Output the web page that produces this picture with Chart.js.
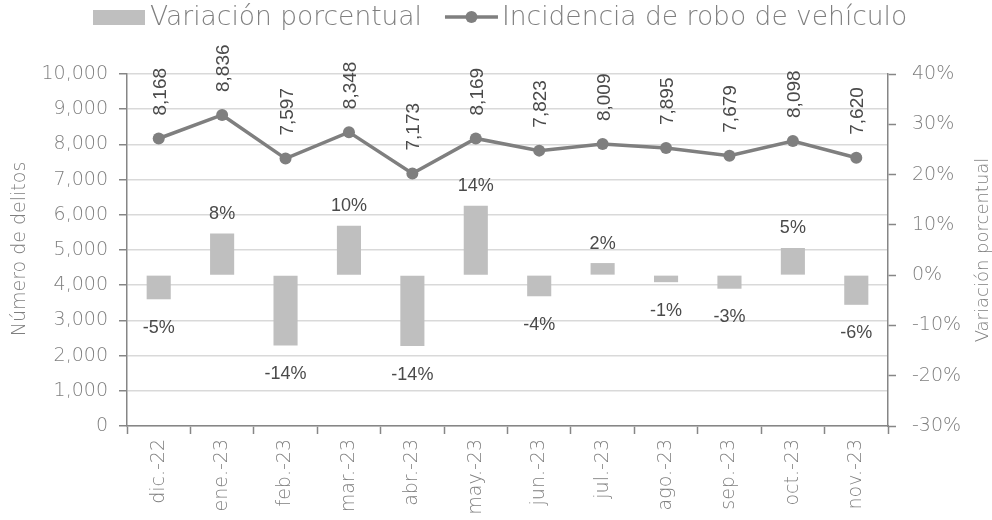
<!DOCTYPE html>
<html><head><meta charset="utf-8">
<script src="https://cdn.jsdelivr.net/npm/chart.js@4.4.1/dist/chart.umd.min.js"></script>
<style>html,body{margin:0;padding:0;background:#fff}#wrap{width:992px;height:520px}</style>
</head><body><div id="wrap"><canvas id="c" width="992" height="520"></canvas></div>
<script>
const categories = ['dic.-22','ene.-23','feb.-23','mar.-23','abr.-23','may.-23','jun.-23','jul.-23','ago.-23','sep.-23','oct.-23','nov.-23'];
const incidencia = [8168,8836,7597,8348,7173,8169,7823,8009,7895,7679,8098,7620];
const variacion = [-4.8,8.3,-14.0,9.8,-14.1,13.8,-4.2,2.4,-1.4,-2.7,5.4,-5.9];
const leftTitle = 'Número de delitos';
const rightTitle = 'Variación porcentual';
const barLabel = 'Variación porcentual';
const lineLabel = 'Incidencia de robo de vehículo';

const AX = '"DejaVu Sans", sans-serif';
const LBL = '"Liberation Sans", Arial, sans-serif';
const GRAY = '#7f7f7f';
const AXIS = '#868686';

const labelsPlugin = {
  id: 'labelsPlugin',
  afterDatasetsDraw(chart) {
    const ctx = chart.ctx;
    ctx.save();
    ctx.fillStyle = '#4a4a4a';
    ctx.font = '18px ' + LBL;
    const capH = 13;
    const bm = chart.getDatasetMeta(0);
    bm.data.forEach((el, i) => {
      const v = variacion[i];
      const txt = Math.round(v) + '%';
      ctx.textAlign = 'center';
      ctx.textBaseline = 'alphabetic';
      const cy = v >= 0 ? el.y - 21 : el.y + 27;
      ctx.fillText(txt, el.x, cy + capH / 2);
    });
    const lm = chart.getDatasetMeta(1);
    ctx.font = '19px ' + LBL;
    lm.data.forEach((el, i) => {
      const txt = incidencia[i].toLocaleString('en-US');
      ctx.save();
      ctx.translate(el.x, el.y - 23);
      ctx.rotate(-Math.PI / 2);
      ctx.textAlign = 'left';
      ctx.textBaseline = 'alphabetic';
      ctx.fillText(txt, 0, 7);
      ctx.restore();
    });
    ctx.restore();
  },
  afterDraw(chart) {
    const ctx = chart.ctx;
    ctx.save();
    ctx.fillStyle = GRAY;
    ctx.textAlign = 'center';
    ctx.textBaseline = 'middle';
    ctx.font = '200 19px ' + AX;
    ctx.save(); ctx.translate(20, 249); ctx.rotate(-Math.PI/2); ctx.fillText(leftTitle, 0, 0); ctx.restore();
    ctx.font = '200 18px ' + AX;
    ctx.save(); ctx.translate(983, 250); ctx.rotate(-Math.PI/2); ctx.fillText(rightTitle, 0, 0); ctx.restore();
    // legend
    ctx.fillStyle = '#bfbfbf';
    ctx.fillRect(93, 10, 52, 15);
    ctx.font = '200 26.5px ' + AX;
    ctx.fillStyle = GRAY;
    ctx.textAlign = 'left';
    ctx.textBaseline = 'alphabetic';
    ctx.fillText(barLabel, 150, 25);
    const w1 = ctx.measureText(barLabel).width;
    const lx = 150 + w1 + 23;
    ctx.strokeStyle = GRAY;
    ctx.lineWidth = 3.5;
    ctx.beginPath(); ctx.moveTo(lx, 17); ctx.lineTo(lx + 53, 17); ctx.stroke();
    ctx.beginPath(); ctx.arc(lx + 26.5, 17, 6, 0, Math.PI * 2); ctx.fillStyle = GRAY; ctx.fill();
    ctx.fillText(lineLabel, lx + 57, 25);
    ctx.restore();
  }
};

new Chart(document.getElementById('c'), {
  data: {
    labels: categories,
    datasets: [
      {
        type: 'bar', label: barLabel, data: variacion, yAxisID: 'y1', order: 1,
        backgroundColor: '#bfbfbf', barPercentage: 0.38, categoryPercentage: 1.0
      },
      {
        type: 'line', label: lineLabel, data: incidencia, yAxisID: 'y', order: 0,
        borderColor: GRAY, borderWidth: 3.5, pointRadius: 6, pointBackgroundColor: GRAY,
        pointBorderWidth: 0, tension: 0, fill: false
      }
    ]
  },
  options: {
    responsive: false, animation: false, devicePixelRatio: 1,
    layout: { padding: { top: 74, left: 0, right: 0, bottom: 0 } },
    plugins: { legend: { display: false }, tooltip: { enabled: false } },
    scales: {
      x: {
        offset: true,
        grid: { offset: true, drawOnChartArea: false, drawTicks: true, tickLength: 8, tickColor: AXIS, tickWidth: 1.5 },
        border: { color: AXIS, width: 1.5 },
        ticks: { minRotation: 90, maxRotation: 90, padding: 5, color: GRAY, font: { family: AX, size: 19, weight: 200 } },
        afterFit(s) { s.height = 94; }
      },
      y: {
        position: 'left', min: 0, max: 10000,
        grid: { color: '#d9d9d9', lineWidth: 1.5, tickColor: AXIS, tickLength: 8, tickWidth: 1.5 },
        border: { color: AXIS, width: 1.5 },
        ticks: { stepSize: 1000, padding: 11, color: GRAY, font: { family: AX, size: 19, weight: 200 },
          callback: v => v.toLocaleString('en-US') },
        afterFit(s) { s.width = 127; }
      },
      y1: {
        position: 'right', min: -30, max: 40,
        grid: { drawOnChartArea: false, tickColor: AXIS, tickLength: 8, tickWidth: 1.5 },
        border: { color: AXIS, width: 1.5 },
        ticks: { stepSize: 10, padding: 16, color: GRAY, font: { family: AX, size: 19, weight: 200 },
          callback: v => v + '%' },
        afterFit(s) { s.width = 104; }
      }
    }
  },
  plugins: [labelsPlugin]
});
</script></body></html>
